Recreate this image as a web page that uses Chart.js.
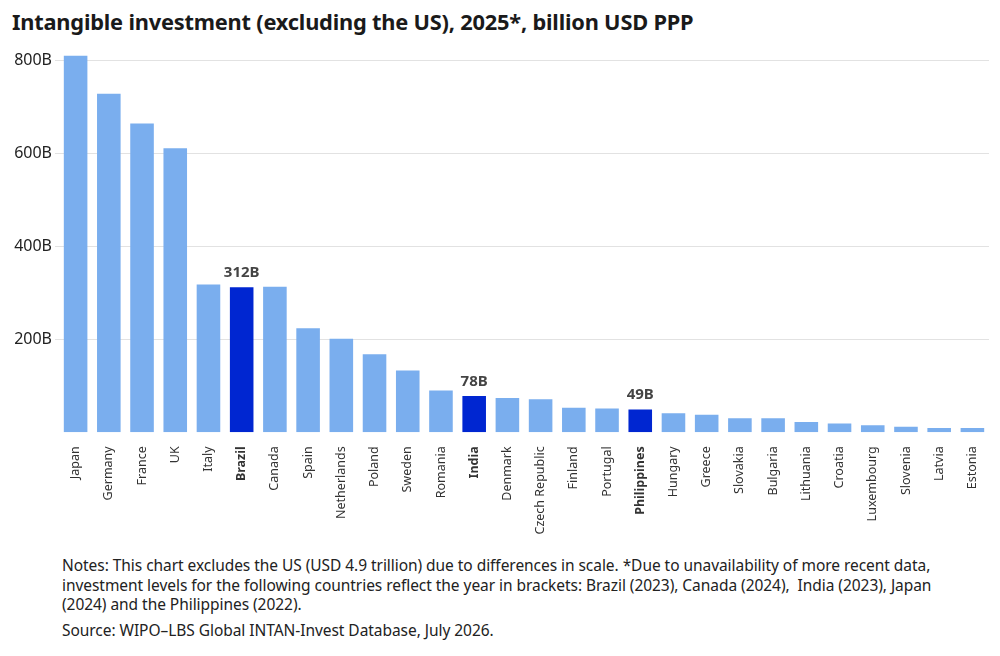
<!DOCTYPE html>
<html>
<head>
<meta charset="utf-8">
<script src="https://cdn.jsdelivr.net/npm/chart.js@4.4.1/dist/chart.umd.min.js"></script>
<style>
    html, body { margin: 0; padding: 0; background: #fff; }
    body { width: 1000px; height: 656px; position: relative; overflow: hidden; font-family: 'Noto Sans', sans-serif; color: #1a1a1a; }
    .title { position: absolute; left: 12px; top: 7px; font-size: 21.8px; font-weight: 700; white-space: nowrap; letter-spacing: -0.2px; }
    .chart-wrap { position: absolute; left: 0; top: 0; width: 1000px; height: 545px; }
    .notes { position: absolute; left: 62px; top: 556px; font-size: 15.5px; line-height: 19.5px; white-space: nowrap; color: #222; letter-spacing: -0.05px; }
    .source { margin-top: 6px; }
</style>
</head>
<body>
<div class="title">Intangible investment (excluding the US), 2025*, billion USD PPP</div>
<div class="chart-wrap"><canvas id="intanChart"></canvas></div>
<div class="notes">
    <div>Notes: This chart excludes the US (USD 4.9 trillion) due to differences in scale. *Due to unavailability of more recent data,<br>
    investment levels for the following countries reflect the year in brackets: Brazil (2023), Canada (2024),&nbsp; India (2023), Japan<br>
    (2024) and the Philippines (2022).</div>
    <div class="source">Source: WIPO–LBS Global INTAN-Invest Database, July 2026.</div>
</div>
<script>
const countries = ['Japan', 'Germany', 'France', 'UK', 'Italy', 'Brazil', 'Canada', 'Spain', 'Netherlands', 'Poland',
    'Sweden', 'Romania', 'India', 'Denmark', 'Czech Republic', 'Finland', 'Portugal', 'Philippines', 'Hungary', 'Greece',
    'Slovakia', 'Bulgaria', 'Lithuania', 'Croatia', 'Luxembourg', 'Slovenia', 'Latvia', 'Estonia'];
const investment = [810, 728, 664, 611, 318, 312, 313, 224, 201, 168,
    133, 90, 78, 74, 71, 53, 51, 49, 41, 38,
    30, 30, 22, 19, 15, 12, 9, 9];
const highlighted = ['Brazil', 'India', 'Philippines'];
const yTickValues = [200, 400, 600, 800];

const baseColor = '#7aaeee';
const highlightColor = '#0026d1';

// value labels above the highlighted bars
const valueLabels = {
    id: 'valueLabels',
    afterDatasetsDraw(chart) {
        const ctx = chart.ctx;
        const meta = chart.getDatasetMeta(0);
        ctx.save();
        ctx.font = 'bold 15px "Noto Sans"';
        ctx.fillStyle = '#444';
        ctx.textAlign = 'center';
        ctx.textBaseline = 'bottom';
        meta.data.forEach((bar, i) => {
            if (highlighted.includes(countries[i])) {
                ctx.fillText(investment[i] + 'B', bar.x, bar.y - 7);
            }
        });
        ctx.restore();
    }
};

const ctx = document.getElementById('intanChart').getContext('2d');
const intanChart = new Chart(ctx, {
    type: 'bar',
    data: {
        labels: countries,
        datasets: [{
            data: investment,
            backgroundColor: countries.map(c => highlighted.includes(c) ? highlightColor : baseColor),
            barPercentage: 0.71,
            categoryPercentage: 1.0
        }]
    },
    options: {
        responsive: true,
        maintainAspectRatio: false,
        animation: false,
        layout: {
            padding: { top: 51, right: 11, left: 0, bottom: 0 }
        },
        plugins: {
            legend: { display: false },
            tooltip: { enabled: false }
        },
        scales: {
            x: {
                grid: { display: false },
                border: { display: false },
                afterFit: function(scale) { scale.height = 112.7; },
                ticks: {
                    autoSkip: false,
                    maxRotation: 90,
                    minRotation: 90,
                    padding: 6,
                    color: '#333',
                    font: function(context) {
                        const name = countries[context.index];
                        return {
                            family: 'Noto Sans',
                            size: 12.5,
                            weight: highlighted.includes(name) ? 'bold' : 'normal'
                        };
                    }
                }
            },
            y: {
                min: 0,
                max: 820,
                afterFit: function(scale) { scale.width = 59; },
                afterBuildTicks: function(scale) {
                    scale.ticks = yTickValues.map(v => ({ value: v }));
                },
                border: { display: false },
                grid: {
                    color: '#e2e2e2',
                    lineWidth: 1,
                    tickLength: 4
                },
                ticks: {
                    padding: 3,
                    color: '#222',
                    font: { family: 'Noto Sans', size: 16 },
                    callback: function(value) {
                        return value + 'B';
                    }
                }
            }
        }
    },
    plugins: [valueLabels]
});
</script>
</body>
</html>
